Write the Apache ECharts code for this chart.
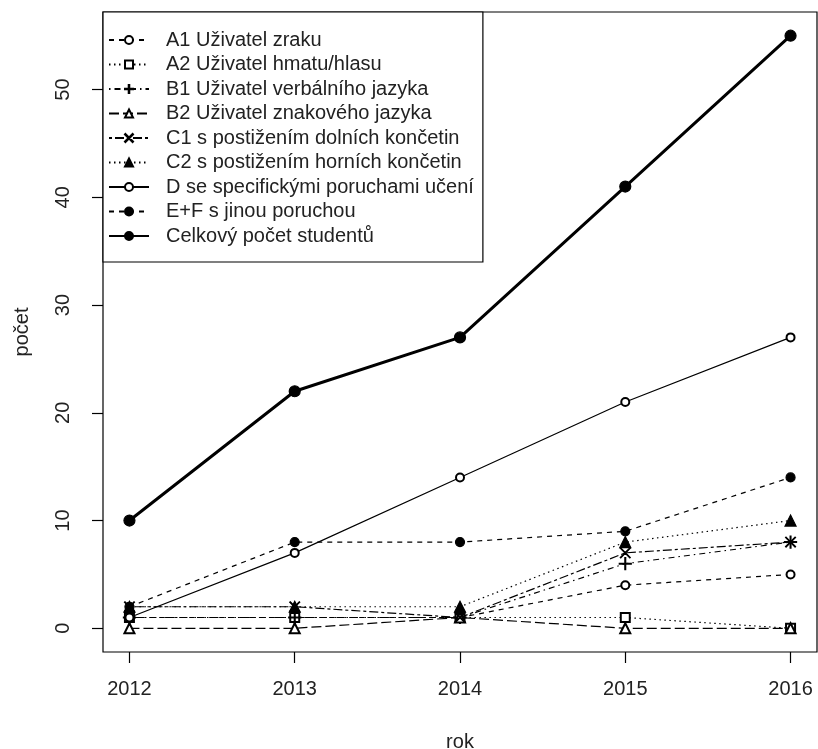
<!DOCTYPE html>
<html>
<head>
<meta charset="utf-8">
<script src="https://cdn.jsdelivr.net/npm/echarts@6/dist/echarts.min.js"></script>
<style>
html,body{margin:0;padding:0;background:#fff;}
#c{width:818px;height:749px;}
</style>
</head>
<body>
<div id="c"></div>
<script>
const years = [2012, 2013, 2014, 2015, 2016];
const yTicks = [0, 10, 20, 30, 40, 50];
const seriesNames = [
  'A1 Uživatel zraku',
  'A2 Uživatel hmatu/hlasu',
  'B1 Uživatel verbálního jazyka',
  'B2 Uživatel znakového jazyka',
  'C1 s postižením dolních končetin',
  'C2 s postižením horních končetin',
  'D se specifickými poruchami učení',
  'E+F s jinou poruchou',
  'Celkový počet studentů'
];
const A1 = [1, 1, 1, 4, 5];
const A2 = [1, 1, 1, 1, 0];
const B1 = [1, 1, 1, 6, 8];
const B2 = [0, 0, 1, 0, 0];
const C1 = [2, 2, 1, 7, 8];
const C2 = [2, 2, 2, 8, 10];
const D  = [1, 7, 14, 21, 27];
const EF = [2, 8, 8, 9, 14];
const TOTAL = [10, 22, 27, 41, 55];

const plusPath = 'path://M-0.07,-1H0.07V-0.07H1V0.07H0.07V1H-0.07V0.07H-1V-0.07H-0.07Z';
const xPath = 'path://M-0.95,-1.05L1.05,0.95L0.95,1.05L-1.05,-0.95ZM0.95,-1.05L1.05,-0.95L-0.95,1.05L-1.05,0.95Z';

const styles = [
  {data: A1, dash: [5, 5], symbol: 'emptyCircle', size: 8, width: 1.2},
  {data: A2, dash: [1.5, 3.5], symbol: 'emptyRect', size: 9, width: 1.2},
  {data: B1, dash: [1.5, 4, 6, 4], symbol: plusPath, size: 12, width: 1.2},
  {data: B2, dash: [10, 4], symbol: 'emptyTriangle', size: 10, width: 1.2},
  {data: C1, dash: [3, 3, 9, 3], symbol: xPath, size: 10, width: 1.2},
  {data: C2, dash: [1.5, 3.5], symbol: 'triangle', size: 11, width: 1.2},
  {data: D,  dash: 'solid', symbol: 'emptyCircle', size: 8, width: 1.2},
  {data: EF, dash: [5, 5], symbol: 'circle', size: 9, width: 1.2},
  {data: TOTAL, dash: 'solid', symbol: 'circle', size: 11, width: 3}
];

const font = 'Liberation Sans, Arial, sans-serif';

const series = styles.map((s, i) => ({
  name: seriesNames[i],
  type: 'line',
  data: years.map((y, j) => [y, s.data[j]]),
  symbol: s.symbol,
  symbolSize: s.size,
  showSymbol: true,
  animation: false,
  z: 2 + i,
  lineStyle: {color: '#000', width: s.width, type: s.dash},
  itemStyle: {color: '#000', borderColor: '#000', borderWidth: 1.2},
  emphasis: {disabled: true}
}));

const chart = echarts.init(document.getElementById('c'));
chart.setOption({
  backgroundColor: '#fff',
  animation: false,
  grid: {left: 103, right: 1, top: 12, bottom: 97, containLabel: false, outerBoundsMode: 'none',
         show: true, borderColor: '#000', borderWidth: 1.2, backgroundColor: 'transparent'},
  xAxis: {
    type: 'value', min: 2011.84, max: 2016.16,
    name: 'rok', nameLocation: 'middle', nameGap: 80,
    nameTextStyle: {fontFamily: font, fontSize: 20, color: '#222'},
    axisLine: {show: false, onZero: false},
    splitLine: {show: false},
    axisTick: {show: true, length: 11, lineStyle: {color: '#000', width: 1.2}, customValues: years},
    axisLabel: {customValues: years, fontFamily: font, fontSize: 20, color: '#222', margin: 27, formatter: v => String(v)}
  },
  yAxis: {
    type: 'value', min: -2.2, max: 57.2,
    name: 'počet', nameLocation: 'middle', nameGap: 71, nameRotate: 90,
    nameTextStyle: {fontFamily: font, fontSize: 20, color: '#222'},
    axisLine: {show: false, onZero: false},
    splitLine: {show: false},
    axisTick: {show: true, length: 11, lineStyle: {color: '#000', width: 1.2}, customValues: yTicks},
    axisLabel: {customValues: yTicks, fontFamily: font, fontSize: 20, color: '#222', margin: 30, rotate: 90, formatter: v => String(v)}
  },
  legend: {
    orient: 'vertical', left: 103, top: 12,
    padding: [18, 9, 16, 5],
    itemGap: 4.5, itemWidth: 40, itemHeight: 10,
    borderColor: '#000', borderWidth: 1.2, backgroundColor: '#fff',
    selectedMode: false,
    textStyle: {fontFamily: font, fontSize: 20, color: '#222', lineHeight: 20, padding: [0, 0, 0, 12]},
    data: seriesNames
  },
  series: series
});
</script>
</body>
</html>
